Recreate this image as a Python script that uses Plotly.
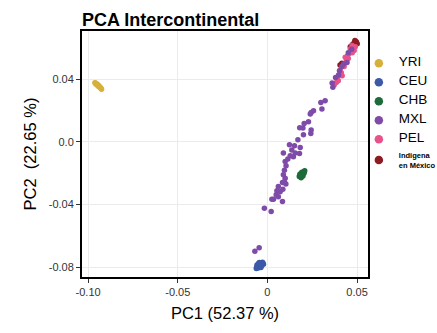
import plotly.graph_objects as go

# PCA coordinates per population (PC1, PC2)
yri_pc1 = [-0.0962, -0.0958, -0.0955, -0.0950, -0.0947, -0.0944, -0.0940, -0.0936, -0.0932,
           -0.0928, -0.0925, -0.0957, -0.0949, -0.0941, -0.0935, -0.0953, -0.0945]
yri_pc2 = [0.0376, 0.0373, 0.0371, 0.0366, 0.0364, 0.0360, 0.0356, 0.0351, 0.0346,
           0.0341, 0.0335, 0.0369, 0.0362, 0.0352, 0.0348, 0.0365, 0.0357]

ceu_pc1 = [-0.0060, -0.0055, -0.0050, -0.0045, -0.0040, -0.0035, -0.0030, -0.0025, -0.0058, -0.0048,
           -0.0038, -0.0028, -0.0052, -0.0042, -0.0032, -0.0062, -0.0022, -0.0045, -0.0036, -0.0050]
ceu_pc2 = [-0.0800, -0.0795, -0.0790, -0.0787, -0.0783, -0.0780, -0.0776, -0.0772, -0.0785, -0.0780,
           -0.0775, -0.0768, -0.0805, -0.0798, -0.0790, -0.0808, -0.0780, -0.0770, -0.0802, -0.0776]

chb_pc1 = [0.0178, 0.0184, 0.0190, 0.0196, 0.0202, 0.0208, 0.0186, 0.0194,
           0.0200, 0.0182, 0.0192, 0.0204, 0.0188, 0.0198, 0.0180, 0.0206]
chb_pc2 = [-0.0222, -0.0215, -0.0208, -0.0200, -0.0192, -0.0185, -0.0225, -0.0212,
           -0.0203, -0.0205, -0.0195, -0.0200, -0.0230, -0.0218, -0.0213, -0.0190]

mxl_pc1 = [-0.0070, -0.0046, -0.0017, 0.0021, 0.0034, 0.0025, 0.0084, 0.0061, 0.0049, 0.0071,
           0.0053, 0.0086, 0.0061, 0.0103, 0.0095, 0.0084, 0.0099, 0.0089, 0.0095, 0.0104,
           0.0099, 0.0114, 0.0145, 0.0127, 0.0179, 0.0155, 0.0089, 0.0136, 0.0183, 0.0151,
           0.0123, 0.0170, 0.0201, 0.0242, 0.0244, 0.0198, 0.0229, 0.0205, 0.0180, 0.0244,
           0.0257, 0.0239, 0.0304, 0.0298, 0.0322, 0.0361, 0.0365, 0.0397, 0.0402, 0.0425,
           0.0444, 0.0415, 0.0451, 0.0380, 0.0470]
mxl_pc2 = [-0.0698, -0.0675, -0.0423, -0.0445, -0.0366, -0.0366, -0.0381, -0.0351, -0.0338, -0.0319,
           -0.0313, -0.0302, -0.0285, -0.0270, -0.0255, -0.0260, -0.0232, -0.0211, -0.0181, -0.0153,
           -0.0126, -0.0110, -0.0096, -0.0089, -0.0075, -0.0072, -0.0072, -0.0053, -0.0036, -0.0026,
           -0.0019, 0.0013, 0.0045, 0.0053, 0.0075, 0.0087, 0.0128, 0.0117, 0.0090, 0.0187,
           0.0198, 0.0177, 0.0209, 0.0251, 0.0262, 0.0375, 0.0347, 0.0426, 0.0453, 0.0496,
           0.0506, 0.0480, 0.0568, 0.0410, 0.0590]

pel_pc1 = [0.0384, 0.0373, 0.0391, 0.0406, 0.0412, 0.0434, 0.0440, 0.0447, 0.0451, 0.0462,
           0.0480, 0.0472, 0.0490, 0.0473, 0.0456, 0.0428, 0.0417, 0.0395, 0.0484, 0.0465]
pel_pc2 = [0.0378, 0.0364, 0.0400, 0.0458, 0.0440, 0.0538, 0.0517, 0.0549, 0.0530, 0.0592,
           0.0602, 0.0613, 0.0606, 0.0568, 0.0562, 0.0479, 0.0421, 0.0389, 0.0581, 0.0575]

ind_pc1 = [0.0473, 0.0484, 0.0496, 0.0490, 0.0501, 0.0478, 0.0462, 0.0405, 0.0415, 0.0488, 0.0467]
ind_pc2 = [0.0619, 0.0632, 0.0638, 0.0619, 0.0625, 0.0600, 0.0606, 0.0490, 0.0500, 0.0645, 0.0590]

x_tickvals = [-0.10, -0.05, 0.0, 0.05]
x_ticktext = ["-0.10", "-0.05", "0", "0.05"]
y_tickvals = [0.04, 0.0, -0.04, -0.08]
y_ticktext = ["0.04", "0.0", "-0.04", "-0.08"]

big = "<span style='font-size:13.5px'>{}</span>"
populations = [
    # (group, legend label, pc1, pc2, colour, legend rank) in drawing order
    ("YRI", big.format("YRI"), yri_pc1, yri_pc2, "#d6b03a", 1),
    ("CEU", big.format("CEU"), ceu_pc1, ceu_pc2, "#3a5aa8", 2),
    ("CHB", big.format("CHB"), chb_pc1, chb_pc2, "#1c6b38", 3),
    ("IND", "<b>Indigena<br>en México</b>", ind_pc1, ind_pc2, "#8e1a22", 6),
    ("PEL", big.format("PEL"), pel_pc1, pel_pc2, "#e8528a", 5),
    ("MXL", big.format("MXL"), mxl_pc1, mxl_pc2, "#7e4ba8", 4),
]

fig = go.Figure()
for group, label, px_, py_, col, rank in populations:
    # samples
    fig.add_trace(go.Scatter(
        x=px_, y=py_, mode="markers", legendgroup=group, showlegend=False,
        marker=dict(color=col, size=5.5, line=dict(width=0)),
    ))
    # legend key (larger symbol, no data)
    fig.add_trace(go.Scatter(
        x=[None], y=[None], mode="markers", name=label, legendgroup=group,
        legendrank=rank, marker=dict(color=col, size=8.5, line=dict(width=0)),
    ))

axis_common = dict(
    showline=True, linecolor="black", linewidth=2, mirror=True,
    ticks="outside", ticklen=4, tickwidth=1.2, tickcolor="#333333",
    showgrid=True, gridcolor="#ebebeb", gridwidth=1, zeroline=False,
    tickfont=dict(family="Liberation Sans, Arial, sans-serif", size=11, color="#333333"),
)

fig.update_layout(
    width=437, height=333,
    margin=dict(l=82, r=69, t=31, b=56, autoexpand=False),
    paper_bgcolor="white", plot_bgcolor="white",
    font=dict(family="Liberation Sans, Arial, sans-serif", color="black"),
    title=dict(text="<b>PCA Intercontinental</b>", x=82 / 437, xanchor="left",
               y=1 - 19.5 / 333, yanchor="middle", yref="container",
               font=dict(size=18, color="black")),
    xaxis=dict(range=[-0.1034, 0.0561], tickvals=x_tickvals, ticktext=x_ticktext,
               title=dict(text="PC1 (52.37 %)", font=dict(size=16.5), standoff=10),
               **axis_common),
    yaxis=dict(range=[-0.0862, 0.0706], tickvals=y_tickvals, ticktext=y_ticktext,
               title=dict(text="PC2  (22.65 %)", font=dict(size=16.5), standoff=8),
               **axis_common),
    legend=dict(x=0.968, xanchor="left", y=0.928, yanchor="top",
                font=dict(size=7.5, color="black"), itemsizing="trace",
                tracegroupgap=0, bgcolor="rgba(0,0,0,0)"),
)

fig.write_html("out.html")
